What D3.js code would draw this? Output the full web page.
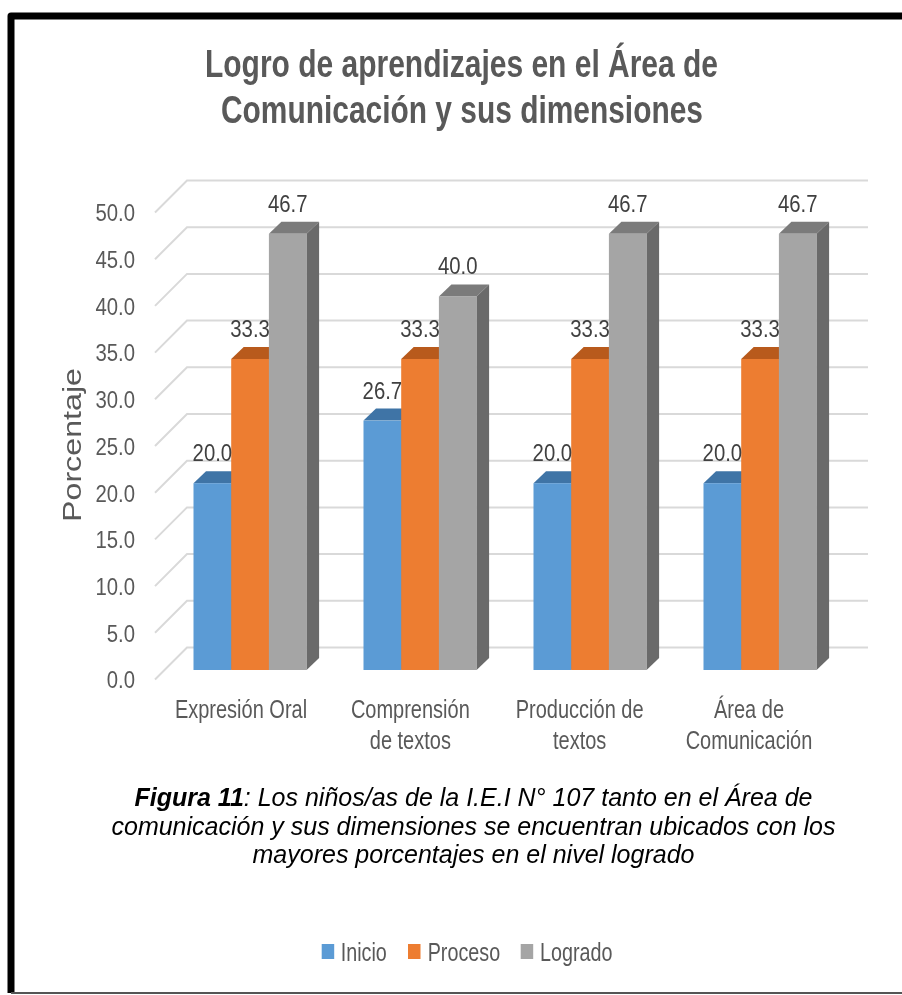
<!DOCTYPE html>
<html lang="es"><head><meta charset="utf-8">
<script src="https://cdn.jsdelivr.net/npm/d3@7/dist/d3.min.js"></script>
<style>html,body{margin:0;padding:0;background:#fff}svg{display:block;filter:blur(.4px)}</style>
</head><body><svg id="c" width="902" height="995"></svg>
<script>
const categories = [["Expresión Oral"],["Comprensión","de textos"],["Producción de","textos"],["Área de","Comunicación"]];
const categoryKeys = ["Expresión Oral","Comprensión de textos","Producción de textos","Área de Comunicación"];
const seriesNames = ["Inicio","Proceso","Logrado"];
const inicio = [20.0,26.7,20.0,20.0];
const proceso = [33.3,33.3,33.3,33.3];
const logrado = [46.7,40.0,46.7,46.7];
const yTicks = [0,5,10,15,20,25,30,35,40,45,50];
const titleLines = ["Logro de aprendizajes en el Área de","Comunicación y sus dimensiones"];
const captionLines = [[["Figura 11",true],[": Los niños/as de la I.E.I N° 107 tanto en el Área de",false]],
 [["comunicación y sus dimensiones se encuentran ubicados con los",false]],
 [["mayores porcentajes en el nivel logrado",false]]];
const colors = ["#5B9BD5","#ED7D31","#A5A5A5"];
const topColors = ["#3F74A6","#B85A1C","#7B7B7B"];
const sideColors = ["#3F74A6","#B85A1C","#6A6A6A"];
const series = [inicio,proceso,logrado];

const svg = d3.select("#c");
const sans = "'Liberation Sans',Arial,sans-serif";
const W=902;
// condensed text: the reference's labels are a narrow face, so squeeze Liberation Sans horizontally
function narrowText(parent,x,y,txt,size,sx,anchor,fill){
  return parent.append("text").attr("transform",`translate(${x},${y}) scale(${sx},1)`)
    .attr("text-anchor",anchor).attr("font-family",sans).attr("font-size",size).attr("fill",fill).text(txt);
}
// frame
svg.append("path").attr("d",`M${W},16H11V993`).attr("fill","none").attr("stroke","#000").attr("stroke-width",7).attr("stroke-linejoin","round");
svg.append("path").attr("d",`M11,993H${W}`).attr("fill","none").attr("stroke","#555").attr("stroke-width",2);

// title
svg.append("g").selectAll("text").data(titleLines).join("text")
  .attr("x",(d,i)=>i?462:461.5).attr("y",(d,i)=>76.5+i*46.5).attr("text-anchor","middle")
  .attr("font-family",sans).attr("font-weight",700).attr("font-size",38).attr("fill","#595959")
  .attr("textLength",(d,i)=>i?482:513).attr("lengthAdjust","spacingAndGlyphs").text(d=>d);

// scales (front plane)
const depth=32, y0Front=679.5, plot=467;
const y=d3.scaleLinear().domain([0,50]).range([y0Front,y0Front-plot]);
const gridRight=868;
const grid=svg.append("g").attr("fill","none").attr("stroke","#D9D9D9").attr("stroke-width",2);
yTicks.forEach(t=>{
  grid.append("path").attr("d",`M155,${y(t)}L${155+depth},${y(t)-depth}H${gridRight}`);
});
// y axis
const ax=svg.append("g").attr("transform","translate(135,0)").call(d3.axisLeft(y).tickValues(yTicks).tickSize(0).tickFormat(d3.format(".1f")));
ax.select(".domain").remove();
ax.selectAll("text").attr("x",0).attr("transform","scale(.83,1)").attr("font-family",sans).attr("font-size",24.5).attr("fill","#595959").attr("dy","0.34em");
svg.append("text").attr("transform","translate(81,445) rotate(-90)").attr("text-anchor","middle")
  .attr("font-family",sans).attr("font-size",25).attr("fill","#595959")
  .attr("textLength",154).attr("lengthAdjust","spacingAndGlyphs").text("Porcentaje");

// bars
const x0=d3.scaleBand().domain(categoryKeys).range([136,816]);
const xLab=d3.scalePoint().domain(categoryKeys).range([241,749]);
const barW=37.7, groupOff=57.5, dx=12.5, dy=12, base=670;
const h=v=>y0Front-y(v);
categoryKeys.forEach((c,ci)=>{
  const g=svg.append("g");
  seriesNames.forEach((s,si)=>{
    const v=series[si][ci], X=x0(c)+groupOff+si*barW, Y=base-h(v);
    g.append("path").attr("fill",topColors[si]).attr("d",`M${X},${Y}l${dx},${-dy}h${barW}l${-dx},${dy}Z`);
    g.append("path").attr("fill",sideColors[si]).attr("d",`M${X+barW},${Y}l${dx},${-dy}V${base-dy}l${-dx},${dy}Z`);
  });
  seriesNames.forEach((s,si)=>{
    const v=series[si][ci], X=x0(c)+groupOff+si*barW, Y=base-h(v);
    g.append("rect").attr("x",X).attr("y",Y).attr("width",barW+.3).attr("height",h(v)).attr("fill",colors[si]);
  });
  seriesNames.forEach((s,si)=>{
    const v=series[si][ci], X=x0(c)+groupOff+si*barW, Y=base-h(v);
    narrowText(g,X+barW/2,Y-22,d3.format(".1f")(v),24.5,.83,"middle","#404040");
  });
  categories[ci].forEach((l,i)=>narrowText(svg,xLab(c),718+i*31,l,25,.8,"middle","#595959"));
});

// caption
const cap=svg.append("g");
captionLines.forEach((line,i)=>{
  const t=cap.append("text").attr("x",473.5).attr("y",806+i*28.5).attr("text-anchor","middle")
    .attr("font-family",sans).attr("font-style","italic").attr("font-size",25).attr("fill","#000");
  line.forEach(([s,b])=>t.append("tspan").attr("font-weight",b?700:400).text(s));
});

// legend
const legX=[321.7,408,520.7], legTx=[340.7,427.7,540];
seriesNames.forEach((s,i)=>{
  svg.append("rect").attr("x",legX[i]).attr("y",944).attr("width",12.5).attr("height",15).attr("fill",colors[i]);
  narrowText(svg,legTx[i],960.5,s,25,.79,"start","#595959");
});
</script></body></html>
